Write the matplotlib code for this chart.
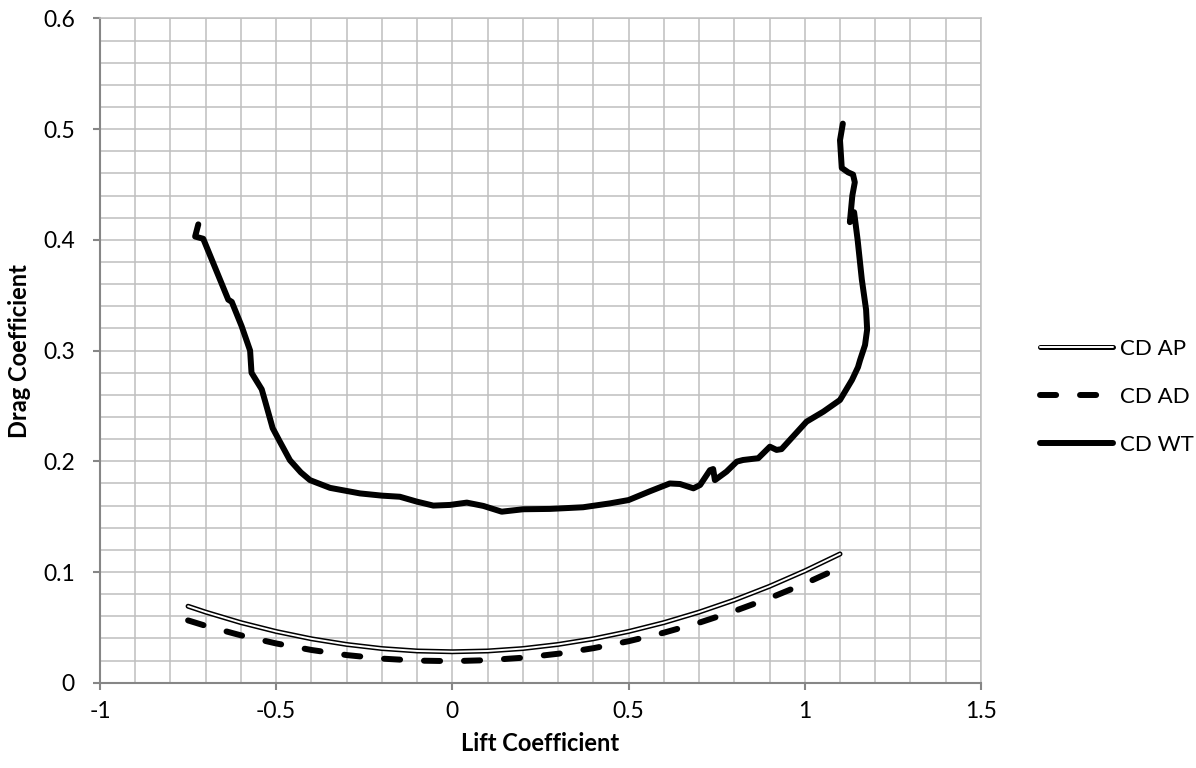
import matplotlib.pyplot as plt
import matplotlib.patheffects as pe
from matplotlib.ticker import MultipleLocator

plt.rcParams['font.family'] = ['Lato', 'DejaVu Sans']

# lift coefficient / drag coefficient
cl_ap = [-0.75, -0.7, -0.6, -0.5, -0.4, -0.3, -0.2, -0.1, 0, 0.1, 0.2, 0.3, 0.4, 0.5, 0.6, 0.7, 0.8, 0.9, 1.0, 1.1]
cd_ap = [0.0691, 0.0638, 0.0543, 0.0463, 0.0397, 0.0346, 0.0309, 0.0287, 0.0280, 0.0287, 0.0309, 0.0346,
         0.0397, 0.0463, 0.0543, 0.0638, 0.0747, 0.0871, 0.1010, 0.1163]
cl_ad = cl_ap
cd_ad = [0.0563, 0.0514, 0.0428, 0.0355, 0.0296, 0.0250, 0.0218, 0.0200, 0.0195, 0.0204, 0.0226, 0.0262,
         0.0312, 0.0375, 0.0452, 0.0542, 0.0647, 0.0764, 0.0895, 0.1040]
cl_wt = [-0.721, -0.730, -0.707, -0.636, -0.626, -0.598, -0.574, -0.570, -0.541, -0.532, -0.510, -0.490,
         -0.461, -0.430, -0.404, -0.347, -0.262, -0.200, -0.149, -0.101, -0.054, -0.007, 0.041, 0.088,
         0.140, 0.201, 0.277, 0.371, 0.447, 0.500, 0.561, 0.617, 0.646, 0.684, 0.703, 0.731, 0.740,
         0.745, 0.778, 0.807, 0.825, 0.868, 0.901, 0.920, 0.934, 1.005, 1.053, 1.100, 1.134, 1.151,
         1.157, 1.171, 1.177, 1.174, 1.162, 1.150, 1.140, 1.128, 1.135, 1.142, 1.137, 1.123, 1.105,
         1.100, 1.108]
cd_wt = [0.414, 0.403, 0.401, 0.346, 0.344, 0.322, 0.300, 0.280, 0.265, 0.255, 0.230, 0.218,
         0.201, 0.190, 0.183, 0.176, 0.171, 0.169, 0.168, 0.1636, 0.160, 0.1606, 0.1627, 0.1597,
         0.1545, 0.1567, 0.157, 0.1585, 0.162, 0.165, 0.173, 0.180, 0.1795, 0.1756, 0.1786, 0.192, 0.193,
         0.183, 0.1907, 0.1997, 0.2012, 0.2028, 0.2132, 0.2103, 0.211, 0.2358, 0.2449, 0.2554, 0.2735, 0.285,
         0.2915, 0.305, 0.319, 0.337, 0.364, 0.400, 0.425, 0.416, 0.440, 0.452, 0.459, 0.461, 0.465,
         0.490, 0.505]

xticks = [-1, -0.5, 0, 0.5, 1, 1.5]
xticklabels = ['-1', '-0.5', '0', '0.5', '1', '1.5']
yticks = [0, 0.1, 0.2, 0.3, 0.4, 0.5, 0.6]
yticklabels = ['0', '0.1', '0.2', '0.3', '0.4', '0.5', '0.6']
labels = ['CD AP', 'CD AD', 'CD WT']

fig = plt.figure(figsize=(11.96, 7.68), dpi=100)
ax = fig.add_axes([0.0836, 0.111, 0.7366, 0.865])
ax.set_xlim(-1, 1.5)
ax.set_ylim(0, 0.6)
ax.set_xticks(xticks)
ax.set_xticklabels(xticklabels)
ax.set_yticks(yticks)
ax.set_yticklabels(yticklabels)
ax.xaxis.set_minor_locator(MultipleLocator(0.1))
ax.yaxis.set_minor_locator(MultipleLocator(0.02))
ax.grid(which='both', color='#bfbfbf', lw=1.1)
ax.set_axisbelow(True)
for s in ['top', 'right']:
    ax.spines[s].set_color('#bfbfbf')
    ax.spines[s].set_linewidth(1.1)
for s in ['left', 'bottom']:
    ax.spines[s].set_color('#868686')
    ax.spines[s].set_linewidth(1.5)
ax.tick_params(which='major', length=5, width=1.5, color='#868686', labelsize=16.5)
ax.tick_params(axis='x', pad=8)
ax.tick_params(axis='y', pad=13)
ax.tick_params(which='minor', length=0)

# CD AP - double line (black outline, white core)
outline = [pe.Stroke(linewidth=3.6, foreground='black'), pe.Normal()]
l_ap, = ax.plot(cl_ap, cd_ap, color='white', lw=1.4, solid_capstyle='round', path_effects=outline)
l_ad, = ax.plot(cl_ad, cd_ad, color='black', lw=4.3, dashes=(2.7, 4), dash_capstyle='round')
l_wt, = ax.plot(cl_wt, cd_wt, color='black', lw=4.3, solid_capstyle='round', solid_joinstyle='round')

ax.set_xlabel('Lift Coefficient', fontsize=17, fontweight='bold', labelpad=7)
ax.set_ylabel('Drag Coefficient', fontsize=17, fontweight='bold', labelpad=9)

fig.legend([l_ap, l_ad, l_wt], labels,
           loc='center left', bbox_to_anchor=(1040 / 1196, 1 - 397 / 768), frameon=False,
           fontsize=16, handlelength=3.3, handletextpad=0.3, labelspacing=1.25,
           borderaxespad=0, borderpad=0)

plt.savefig('out.png', dpi=100)
